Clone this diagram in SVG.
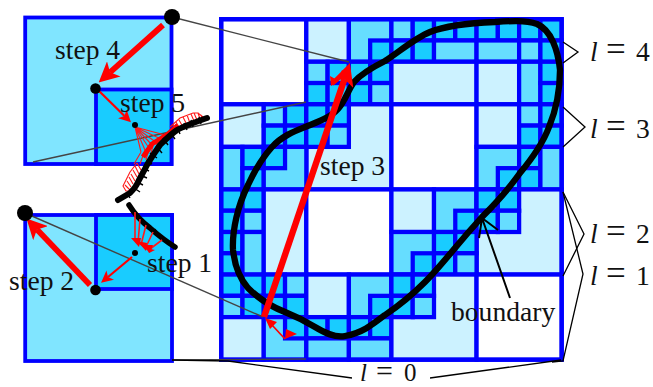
<svg xmlns="http://www.w3.org/2000/svg" width="653" height="387" viewBox="0 0 653 387">
<style>
.g rect{stroke:#0000ff;stroke-width:.2}
.w{fill:#fff}.l{fill:#ccf2ff}.m{fill:#66ddff}.s{fill:#19ccff}
.b{stroke:#0000ff;stroke-width:3.8}
.i{fill:#80e5ff}
.t{font-family:"Liberation Serif","Times New Roman",serif;font-size:27.6px;fill:#111}
.v{font-style:italic}
.q{font-size:35px}
.c{fill:none;stroke:#000;stroke-linecap:round;stroke-linejoin:round}
.thin{fill:none;stroke:#000;stroke-width:1.3}
.gray{fill:none;stroke:#444;stroke-width:1.4}
.r{fill:none;stroke:#ff0000;stroke-linecap:butt}
.f{fill:none;stroke:#ff1a1a;stroke-width:1.1}
.k{fill:none;stroke:#000;stroke-width:1.4}
</style>
<defs>
<marker id="ah" viewBox="0 0 10 10" refX="2.5" refY="5" markerWidth="3.5" markerHeight="3.5" orient="auto"><path d="M0,0L10,5L0,10L2.5,5z" fill="#ff0000"/></marker>
<marker id="as" viewBox="0 0 10 10" refX="2.5" refY="5" markerWidth="5.5" markerHeight="5.5" orient="auto"><path d="M0,0L10,5L0,10L2.5,5z" fill="#ff0000"/></marker>
</defs>

<g id="grid" class="g" transform="translate(221.2 19.2) scale(21.28)">
<rect class="w" x="0" y="0" width="4" height="4"/>
<rect class="l" x="4" y="0" width="2" height="2"/>
<rect class="m" x="6" y="0" width="2" height="2"/><rect class="s" x="7" y="1" width="1" height="1"/>
<rect class="m" x="4" y="2" width="1" height="1"/><rect class="s" x="5" y="2" width="1" height="1"/><rect class="s" x="6" y="2" width="1" height="1"/><rect class="s" x="7" y="2" width="1" height="1"/>
<rect class="s" x="4" y="3" width="1" height="1"/><rect class="s" x="5" y="3" width="1" height="1"/><rect class="s" x="6" y="3" width="1" height="1"/><rect class="m" x="7" y="3" width="1" height="1"/>
<rect class="l" x="0" y="4" width="2" height="2"/>
<rect class="m" x="2" y="4" width="1" height="1"/><rect class="s" x="3" y="4" width="1" height="1"/><rect class="s" x="2" y="5" width="1" height="1"/><rect class="s" x="3" y="5" width="1" height="1"/>
<rect class="l" x="4" y="4" width="4" height="4"/>
<rect class="s" x="4" y="4" width="1" height="1"/><rect class="s" x="5" y="4" width="1" height="1"/><rect class="s" x="4" y="5" width="1" height="1"/><rect class="m" x="5" y="5" width="1" height="1"/>
<rect class="m" x="0" y="6" width="1" height="2"/><rect class="s" x="1" y="6" width="1" height="1"/><rect class="s" x="1" y="7" width="1" height="1"/>
<rect class="m" x="2" y="6" width="2" height="2"/><rect class="s" x="2" y="6" width="1" height="1"/>
<rect class="m" x="8" y="0" width="1" height="1"/><rect class="s" x="9" y="0" width="1" height="1"/><rect class="s" x="10" y="0" width="1" height="1"/><rect class="s" x="11" y="0" width="1" height="1"/><rect class="s" x="12" y="0" width="1" height="1"/><rect class="s" x="13" y="0" width="1" height="1"/><rect class="s" x="14" y="0" width="1" height="1"/><rect class="s" x="15" y="0" width="1" height="1"/>
<rect class="s" x="8" y="1" width="1" height="1"/><rect class="s" x="9" y="1" width="1" height="1"/><rect class="m" x="10" y="1" width="2" height="1"/><rect class="m" x="12" y="1" width="2" height="1"/><rect class="m" x="14" y="1" width="1" height="1"/><rect class="s" x="15" y="1" width="1" height="1"/>
<rect class="l" x="8" y="2" width="4" height="2"/><rect class="l" x="12" y="2" width="2" height="2"/><rect class="m" x="14" y="2" width="1" height="2"/><rect class="s" x="15" y="2" width="1" height="1"/><rect class="s" x="15" y="3" width="1" height="1"/>
<rect class="w" x="8" y="4" width="4" height="4"/><rect class="l" x="12" y="4" width="2" height="2"/>
<rect class="m" x="14" y="4" width="1" height="1"/><rect class="s" x="15" y="4" width="1" height="1"/><rect class="s" x="14" y="5" width="1" height="1"/><rect class="s" x="15" y="5" width="1" height="1"/>
<rect class="m" x="12" y="6" width="2" height="2"/><rect class="s" x="13" y="7" width="1" height="1"/>
<rect class="s" x="14" y="6" width="1" height="1"/><rect class="s" x="14" y="7" width="1" height="1"/><rect class="m" x="15" y="6" width="1" height="2"/>
<rect class="s" x="0" y="8" width="1" height="1"/><rect class="s" x="1" y="8" width="1" height="1"/><rect class="s" x="0" y="9" width="1" height="1"/><rect class="m" x="1" y="9" width="1" height="1"/>
<rect class="s" x="0" y="10" width="1" height="1"/><rect class="s" x="0" y="11" width="1" height="1"/><rect class="m" x="1" y="10" width="1" height="2"/>
<rect class="l" x="2" y="8" width="2" height="4"/><rect class="w" x="4" y="8" width="4" height="4"/>
<rect class="s" x="0" y="12" width="1" height="1"/><rect class="s" x="1" y="12" width="1" height="1"/><rect class="s" x="2" y="12" width="1" height="1"/><rect class="m" x="3" y="12" width="1" height="1"/>
<rect class="m" x="0" y="13" width="1" height="1"/><rect class="s" x="1" y="13" width="1" height="1"/><rect class="s" x="2" y="13" width="1" height="1"/><rect class="s" x="3" y="13" width="1" height="1"/>
<rect class="l" x="0" y="14" width="2" height="2"/><rect class="m" x="2" y="14" width="2" height="2"/><rect class="s" x="3" y="14" width="1" height="1"/>
<rect class="l" x="4" y="12" width="2" height="2"/><rect class="m" x="6" y="12" width="2" height="2"/><rect class="s" x="7" y="13" width="1" height="1"/>
<rect class="s" x="4" y="14" width="1" height="1"/><rect class="s" x="5" y="14" width="1" height="1"/><rect class="s" x="6" y="14" width="1" height="1"/><rect class="s" x="7" y="14" width="1" height="1"/>
<rect class="m" x="4" y="15" width="2" height="1"/><rect class="m" x="6" y="15" width="2" height="1"/>
<rect class="l" x="8" y="8" width="2" height="2"/><rect class="m" x="10" y="8" width="2" height="2"/><rect class="s" x="11" y="9" width="1" height="1"/>
<rect class="l" x="12" y="8" width="4" height="4"/><rect class="s" x="12" y="8" width="1" height="1"/><rect class="s" x="13" y="8" width="1" height="1"/><rect class="s" x="12" y="9" width="1" height="1"/><rect class="m" x="13" y="9" width="1" height="1"/>
<rect class="m" x="8" y="10" width="2" height="2"/><rect class="s" x="9" y="11" width="1" height="1"/>
<rect class="s" x="10" y="10" width="1" height="1"/><rect class="s" x="11" y="10" width="1" height="1"/><rect class="s" x="10" y="11" width="1" height="1"/><rect class="m" x="11" y="11" width="1" height="1"/>
<rect class="l" x="8" y="12" width="4" height="4"/><rect class="s" x="8" y="12" width="1" height="1"/><rect class="s" x="9" y="12" width="1" height="1"/><rect class="s" x="8" y="13" width="1" height="1"/><rect class="m" x="9" y="13" width="1" height="1"/>
<rect class="w" x="12" y="12" width="4" height="4"/>
<rect x="0" y="0" width="16" height="16" fill="none"/>
</g>

<g id="inset-top">
<rect class="i b" x="25.2" y="17.5" width="146.3" height="146.5"/>
<rect class="s b" x="96" y="89.5" width="75.5" height="74.5"/>
</g>
<g id="inset-bottom">
<rect class="i b" x="25.2" y="215" width="146.8" height="146"/>
<rect class="s b" x="96" y="215" width="76" height="74"/>
</g>

<g id="connectors">
<path class="gray" d="M172,17L349,62"/>
<path class="gray" d="M33,162L306,102"/>
<path class="gray" d="M25,213L263,317"/>
<path class="gray" d="M172,360L306,359"/>
<path class="thin" d="M172,360L228,361L352,378"/>
<path class="thin" d="M430,378L561,360"/>
<path class="thin" d="M563,42L578,52L563,63"/>
<path class="thin" d="M563,107L585,127L563,147"/>
<path class="thin" d="M563,192L584,234L563,276"/>
<path class="thin" d="M563,192L583,274L563,361L552,362"/>
<path class="thin" style="stroke-width:2" d="M510,298L482,218M479,238L482,218L498,230"/>
</g>

<g id="boundary">
<path class="c" stroke-width="6.3" d="M248,185C255,170 262,158 272,147C282,136 295,131 305,127C318,122 331,117 338,109C346,100 347,92 354,82C362,73 375,66 385,61C399,52 415,38 430,32C445,26 470,23 495,22C510,21 525,20 537,24C551,30 558,50 560,70C560,92 556,110 549,127C542,146 530,161 520,173C508,190 495,204 482,217C472,228 465,236 455,248C445,260 435,272 425,282C412,295 400,305 385,315C372,325 362,333 345,336C335,338 325,333 315,327C305,321 295,316 285,312C272,307 258,298 248,288C240,279 235,268 233,250C232,230 238,205 248,185Z"/>
</g>

<g id="fan-top">
<path class="f" d="M135,127L141,152M135,127L145,150M135,127L149,148M135,127L153,146M135,127L157,143M135,127L161,139M135,127L165,135M141,152L134,164M145,150L140,164M149,148L146,160M153,146L150,157M157,143L156,153M161,139L160,149M165,135L166,144"/>
<path fill="none" stroke="#ff0000" stroke-width="5" d="M143,157L152,144L168,134L178,125"/>
<path class="f" d="M137,163L130,172L123,186L126,191L130,191M137,163L141,170M135,166L139,174M133,170L137,177M131,174L135,181M129,177L133,184M127,181L131,187M125,185L130,190"/>
<path class="f" d="M170,127L180,118L193,113L198,113L203,117M173,125L178,131M176,122L180,129M179,120L183,127M183,117L187,125M187,115L190,123M191,114L194,121M194,113L197,120M198,113L200,119M201,115L202,118"/>
</g>
<g id="curve-top">
<path class="c" stroke-width="6" d="M207,118C196,122 186,125 177,130C170,135 165,140 160,145C155,152 151,158 147,165C144,171 141,176 138,182C136,187 133,190 130,193L118,200"/>
<path class="k" d="M150,153L157,158M146,161L152,164M143,168L149,171M140,175L147,178M137,182L143,185M134,188L140,192M127,193L130,198M156,146L162,153M163,138L168,145M170,132L175,139M177,127L180,134M184,123L187,130M191,120L193,127M199,117L201,124"/>
</g>
<g id="curve-bottom">
<path class="c" stroke-width="5.5" d="M129,205C134,213 142,222 150,228C158,235 167,242 175,247"/>
<path class="k" d="M155,229L158,235"/>
</g>
<g id="fan-bottom">
<path fill="none" stroke="#ff1a1a" stroke-width="1.6" d="M135,212L135,240M140,219L138,243M146,225L141,245M153,232L146,247M162,240L150,249M135,240L150,251"/>
<path fill="#ff0000" d="M131,238L141,238L139,247ZM137,241L147,243L146,251ZM142,245L153,245L150,253ZM146,248L155,250L149,253Z"/>
</g>

<g id="arrows">
<path class="r" stroke-width="5.8" marker-end="url(#ah)" d="M163,25L110,72.3"/>
<path class="r" stroke-width="2.2" marker-end="url(#as)" d="M96,88L124.5,116"/>
<path class="r" stroke-width="5.8" marker-end="url(#ah)" d="M90,285L37,229.5"/>
<path class="r" stroke-width="2.2" marker-end="url(#as)" d="M132,257L108,277"/>
<path class="r" stroke-width="6.4" marker-end="url(#ah)" d="M264,317L344.5,79"/>
<path class="r" stroke-width="1.7" d="M285,339L272,325"/>
<path fill="#ff0000" d="M265,318L277,322L270,329ZM297,334L285,339L286,329Z"/>
<path class="r" stroke-width="1.7" d="M333,85L347,72"/>
<path fill="#ff0000" d="M350,67L341,71L347,78ZM330,76L339,81L331,86Z"/>
</g>

<g id="dots" fill="#000">
<circle cx="172" cy="17" r="8"/><circle cx="95.5" cy="88.5" r="5.3"/><circle cx="135" cy="125" r="3"/>
<circle cx="25" cy="213" r="8"/><circle cx="95.5" cy="290" r="5.3"/><circle cx="135" cy="253" r="3"/>
</g>

<g id="labels">
<text class="t" x="55" y="59">step 4</text>
<text class="t" x="120" y="112">step 5</text>
<text class="t" x="320" y="175">step 3</text>
<text class="t" x="147" y="272">step 1</text>
<text class="t" x="9" y="290">step 2</text>
<text class="t" x="451" y="321">boundary</text>
<text class="t" y="61"><tspan class="v" x="590">l</tspan><tspan class="q" x="606">=</tspan><tspan x="636">4</tspan></text>
<text class="t" y="138"><tspan class="v" x="590">l</tspan><tspan class="q" x="606">=</tspan><tspan x="636">3</tspan></text>
<text class="t" y="243"><tspan class="v" x="590">l</tspan><tspan class="q" x="606">=</tspan><tspan x="636">2</tspan></text>
<text class="t" y="285"><tspan class="v" x="590">l</tspan><tspan class="q" x="606">=</tspan><tspan x="636">1</tspan></text>
<text class="t" style="font-size:25px" y="381"><tspan class="v" x="360">l</tspan><tspan x="376" style="font-size:30px">=</tspan><tspan x="404">0</tspan></text>
</g>
</svg>
